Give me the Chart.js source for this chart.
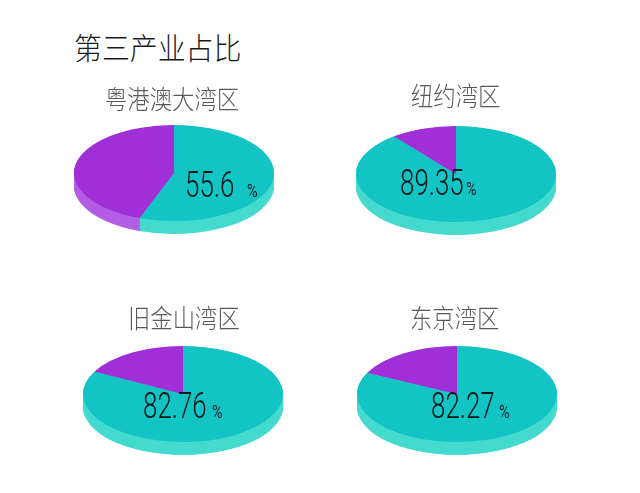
<!DOCTYPE html>
<html>
<head>
<meta charset="utf-8">
<script src="https://cdn.jsdelivr.net/npm/chart.js@4"></script>
<style>
  html, body { margin: 0; padding: 0; background: #fff; overflow: hidden; }
  body { width: 640px; height: 493px; position: relative; }
  .pie { position: absolute; width: 210px; height: 210px; }
  .txt { position: absolute; white-space: nowrap; font-family: "Noto Sans CJK SC", sans-serif; font-weight: 300; transform-origin: left center; z-index: 2; }
  .title { font-size: 30px; line-height: 30px; color: #1a1a1a; transform: scaleX(0.93); }
  .sub { font-size: 26px; line-height: 26px; color: #595959; transform: scaleX(0.86); }
</style>
</head>
<body>
<div class="txt title" style="left:74px; top:31px;">第三产业占比</div>
<div class="txt sub" id="sub0" style="left:105px; top:85px;"></div>
<div class="txt sub" id="sub1" style="left:411px; top:82px;"></div>
<div class="txt sub" id="sub2" style="left:128px; top:304px;"></div>
<div class="txt sub" id="sub3" style="left:410px; top:304px;"></div>

<div class="pie" style="left:69px; top:68px;"><canvas id="pie0" width="210" height="210"></canvas></div>
<div class="pie" style="left:351px; top:69px;"><canvas id="pie1" width="210" height="210"></canvas></div>
<div class="pie" style="left:78px; top:289px;"><canvas id="pie2" width="210" height="210"></canvas></div>
<div class="pie" style="left:352px; top:289px;"><canvas id="pie3" width="210" height="210"></canvas></div>

<script>
// data
const regions = ['粤港澳大湾区', '纽约湾区', '旧金山湾区', '东京湾区'];
const tertiaryShare = [55.6, 89.35, 82.76, 82.27];
const otherShare = [44.4, 10.65, 17.24, 17.73];
const shareLabels = ['55.6', '89.35', '82.76', '82.27'];

// look
const faceColors = ['#12C4C4', '#A12FD8'];
const sideColors = ['#45DACF', '#B35EE5'];
// label offsets from pie centre: [number left, baseline, % left]
const labelPos = [[11, 24, 73], [-56, 21, 10], [-40, 24, 29], [-26, 24, 42]];

// squash the pie into an ellipse and stack a lighter rim under it
const pie3d = {
  id: 'pie3d',
  beforeDatasetsDraw(chart, args, opts) {
    const meta = chart.getDatasetMeta(0);
    const { x, y } = meta.data[0];
    const ctx = chart.ctx;
    ctx.save();
    ctx.translate(x, y);
    ctx.scale(1, opts.squash);
    ctx.translate(-x, -y);
    const steps = Math.round(opts.depth / opts.squash);
    for (let d = steps; d >= 1; d--) {
      meta.data.forEach((arc, i) => {
        const p = arc.getProps(['x', 'y', 'startAngle', 'endAngle', 'outerRadius'], true);
        ctx.beginPath();
        ctx.moveTo(p.x, p.y + d);
        ctx.arc(p.x, p.y + d, p.outerRadius, p.startAngle, p.endAngle);
        ctx.closePath();
        ctx.fillStyle = sideColors[i];
        ctx.fill();
      });
    }
  },
  afterDatasetsDraw(chart) {
    chart.ctx.restore();
  },
  afterDraw(chart, args, opts) {
    const { x, y } = chart.getDatasetMeta(0).data[0];
    const ctx = chart.ctx;
    const [nx, by, px] = opts.pos;
    ctx.save();
    ctx.fillStyle = '#0b1717';
    ctx.textBaseline = 'alphabetic';
    ctx.textAlign = 'left';
    ctx.translate(x + nx, y + by);
    ctx.scale(0.72, 1);
    ctx.font = '300 36px Roboto, sans-serif';
    ctx.fillText(opts.text, 0, 0);
    ctx.restore();
    ctx.save();
    ctx.fillStyle = '#0b1717';
    ctx.translate(x + px, y + by);
    ctx.scale(0.8, 1);
    ctx.font = '18px Roboto, sans-serif';
    ctx.fillText('%', 0, 0);
    ctx.restore();
  }
};

regions.forEach((name, i) => {
  document.getElementById('sub' + i).textContent = name;
  new Chart(document.getElementById('pie' + i).getContext('2d'), {
    type: 'pie',
    data: {
      labels: ['第三产业', '其他'],
      datasets: [{
        data: [tertiaryShare[i], otherShare[i]],
        backgroundColor: faceColors,
        borderWidth: 0,
        clip: false
      }]
    },
    options: {
      responsive: false,
      animation: false,
      events: [],
      layout: { padding: 5 },
      plugins: {
        legend: { display: false },
        tooltip: { enabled: false },
        pie3d: { squash: 0.48, depth: 13, text: shareLabels[i], pos: labelPos[i] }
      }
    },
    plugins: [pie3d]
  });
});
</script>
</body>
</html>
